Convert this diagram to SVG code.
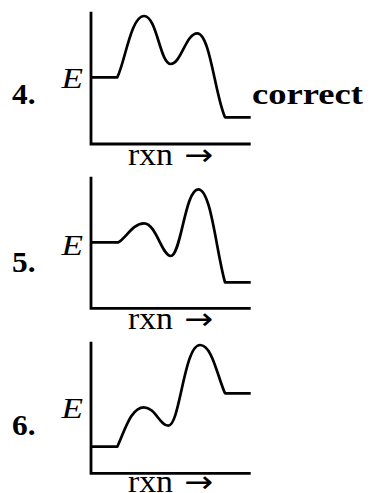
<svg xmlns="http://www.w3.org/2000/svg" width="373" height="493" viewBox="0 0 373 493">
<style>
.ax{fill:none;stroke:#000;stroke-width:2.8;stroke-linecap:butt}
.cv{fill:none;stroke:#000;stroke-width:2.7;stroke-linejoin:round}
.t{font-family:"Liberation Serif","DejaVu Serif",serif;fill:#000}
.e{font-style:italic;font-size:30px}
.n{font-weight:bold;font-size:30px}
.x{font-size:31px}
.ar{font-family:"DejaVu Sans",sans-serif;font-size:30px;fill:#000}
</style>
<rect width="373" height="493" fill="#fff"/>
<g id="panel4">
<path class="ax" d="M91,11.7 V144 H250.7"/>
<path class="cv" d="M91,77.3 H117.3 C125,62 131,16 144,16 C157,16 160,64 170.7,64 C181,64 186,33.3 197.3,33.3 C210,33.3 215,95 225,117.3 H250.7"/>
<text class="t e" x="61.5" y="88" textLength="21.5" lengthAdjust="spacingAndGlyphs">E</text>
<text class="t n" x="12" y="104" textLength="23.5" lengthAdjust="spacingAndGlyphs">4.</text>
<text class="t n" x="252" y="104" textLength="111" lengthAdjust="spacingAndGlyphs">correct</text>
<text class="t x" x="128" y="165" textLength="45" lengthAdjust="spacingAndGlyphs">rxn</text>
<text class="ar" x="184" y="165" textLength="29" lengthAdjust="spacingAndGlyphs">→</text>
</g>
<g id="panel5">
<path class="ax" d="M91,176.7 V308.3 H250.7"/>
<path class="cv" d="M91,242.3 H118.3 C126,238 133,223.3 144,223.3 C156,223.3 162,256 170.7,256 C181,256 185,189.3 198.3,189.3 C211,189.3 216,250 225,282.3 H250.7"/>
<text class="t e" x="61.5" y="255" textLength="21.5" lengthAdjust="spacingAndGlyphs">E</text>
<text class="t n" x="12" y="272" textLength="23.5" lengthAdjust="spacingAndGlyphs">5.</text>
<text class="t x" x="128" y="329" textLength="45" lengthAdjust="spacingAndGlyphs">rxn</text>
<text class="ar" x="184" y="329" textLength="29" lengthAdjust="spacingAndGlyphs">→</text>
</g>
<g id="panel6">
<path class="ax" d="M91,341.7 V473.3 H250.7"/>
<path class="cv" d="M91,446.7 H117.3 C125,430 131,407.3 144,407.3 C155,407.3 160,425.7 168.3,425.7 C180,425.7 184,345 200,345 C212,345 217,375 225,393.3 H250.7"/>
<text class="t e" x="61.5" y="418" textLength="21.5" lengthAdjust="spacingAndGlyphs">E</text>
<text class="t n" x="12" y="435" textLength="23.5" lengthAdjust="spacingAndGlyphs">6.</text>
<text class="t x" x="128" y="492" textLength="45" lengthAdjust="spacingAndGlyphs">rxn</text>
<text class="ar" x="184" y="492" textLength="29" lengthAdjust="spacingAndGlyphs">→</text>
</g>
</svg>
